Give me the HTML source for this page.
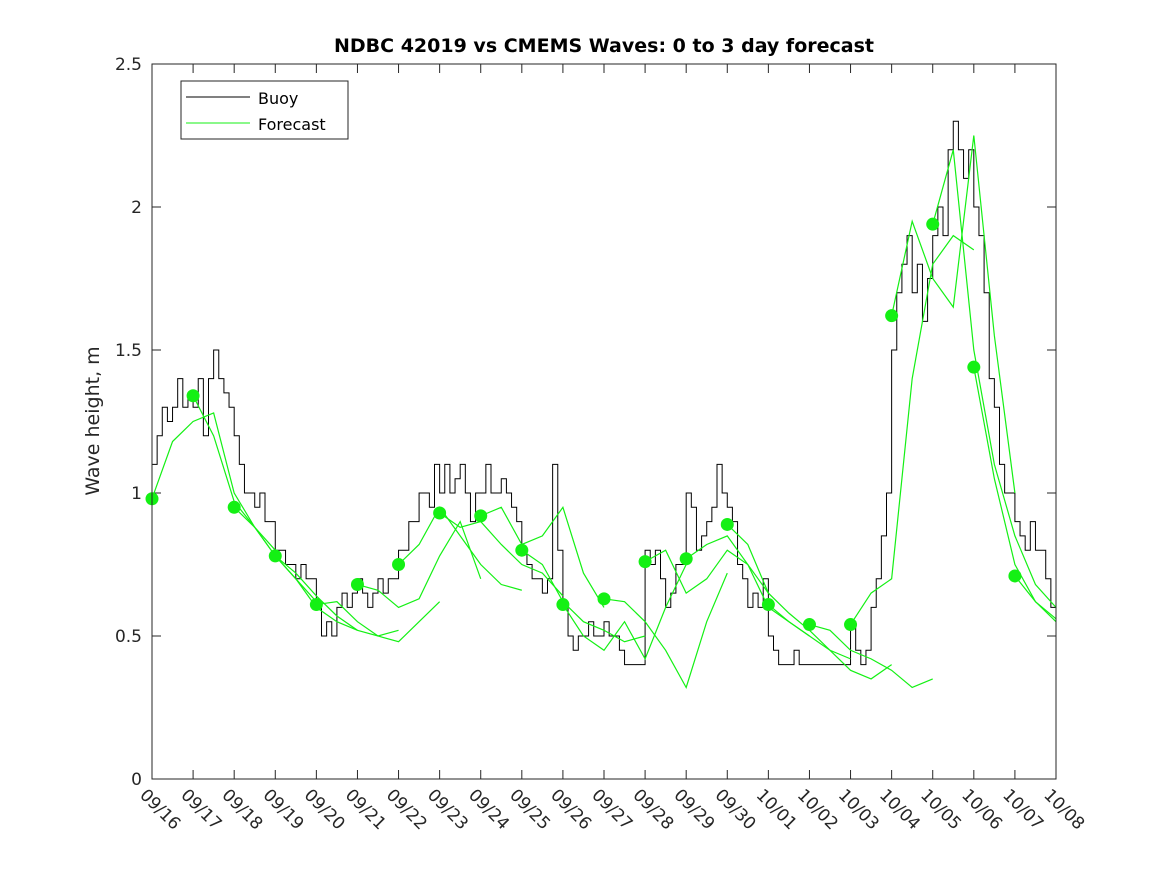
<!DOCTYPE html>
<html><head><meta charset="utf-8"><style>
body{margin:0;background:#fff;}
svg text{font-family:"DejaVu Sans","Liberation Sans",sans-serif;}
</style></head><body>
<svg id="chart" width="1167" height="875" xmlns="http://www.w3.org/2000/svg">
<rect width="1167" height="875" fill="#fff"/>
<text x="604" y="52" text-anchor="middle" font-size="19" font-weight="bold" fill="#000">NDBC 42019 vs CMEMS Waves: 0 to 3 day forecast</text>
<text transform="translate(99,421) rotate(-90)" text-anchor="middle" font-size="19" fill="#262626">Wave height, m</text>
<g id="grid"></g>
<g id="series"></g>
<rect x="152" y="64" width="904" height="715" fill="none" stroke="#262626" stroke-width="1"/>
<g>
<rect x="181" y="81" width="167" height="58" fill="#fff" stroke="#262626"/>
<line x1="186" y1="97" x2="250" y2="97" stroke="#000"/>
<text x="258" y="104" font-size="16" fill="#000">Buoy</text>
<line x1="186" y1="123" x2="250" y2="123" stroke="#14f014"/>
<text x="258" y="130" font-size="16" fill="#000">Forecast</text>
</g>
</svg>
<script>
const dayLabels=["09/16","09/17","09/18","09/19","09/20","09/21","09/22","09/23","09/24","09/25","09/26","09/27","09/28","09/29","09/30","10/01","10/02","10/03","10/04","10/05","10/06","10/07","10/08"];
const yTicks=[0,0.5,1,1.5,2,2.5];
const yTickLabels=["0","0.5","1","1.5","2","2.5"];
// buoy, 3-hourly from 09/16 00:00
const buoy=[
1.1,1.2,1.3,1.25,1.3,1.4,1.3,1.35,
1.3,1.4,1.2,1.4,1.5,1.4,1.35,1.3,
1.2,1.1,1.0,1.0,0.95,1.0,0.9,0.9,
0.8,0.8,0.75,0.75,0.7,0.75,0.7,0.7,
0.6,0.5,0.55,0.5,0.6,0.65,0.6,0.65,
0.7,0.65,0.6,0.65,0.7,0.65,0.7,0.7,
0.8,0.8,0.9,0.9,1.0,1.0,0.95,1.1,
1.0,1.1,1.0,1.05,1.1,1.0,0.9,1.0,
1.0,1.1,1.0,1.0,1.05,1.0,0.95,0.9,
0.8,0.75,0.7,0.7,0.65,0.7,1.1,0.8,
0.6,0.5,0.45,0.5,0.5,0.55,0.5,0.5,
0.55,0.5,0.5,0.45,0.4,0.4,0.4,0.4,
0.8,0.75,0.8,0.7,0.6,0.65,0.75,0.75,
1.0,0.95,0.8,0.85,0.9,0.95,1.1,1.0,
0.95,0.9,0.75,0.7,0.6,0.65,0.6,0.7,
0.5,0.45,0.4,0.4,0.4,0.45,0.4,0.4,
0.4,0.4,0.4,0.4,0.4,0.4,0.4,0.4,
0.55,0.45,0.4,0.45,0.6,0.7,0.85,1.0,
1.5,1.7,1.8,1.9,1.7,1.8,1.6,1.75,
1.9,2.0,1.9,2.2,2.3,2.2,2.1,2.2,
2.0,1.9,1.7,1.4,1.3,1.1,1.0,1.0,
0.9,0.85,0.8,0.9,0.8,0.8,0.7,0.6,
0.5];
// forecasts, 12-hourly, each starting at day index
const forecastStarts=[0,1,2,3,4,5,6,7,8,9,10,11,12,13,14,15,16,17,18,19,20,21];
const forecasts=[
[0.98,1.18,1.25,1.28,1.00,0.88,0.80],
[1.34,1.20,0.97,0.88,0.78,0.70,0.62],
[0.95,0.88,0.78,0.70,0.60,0.55,0.52],
[0.78,0.72,0.64,0.57,0.52,0.50,0.52],
[0.61,0.62,0.55,0.50,0.48,0.55,0.62],
[0.68,0.66,0.60,0.63,0.78,0.90,0.70],
[0.75,0.82,0.95,0.85,0.75,0.68,0.66],
[0.93,0.88,0.90,0.82,0.75,0.72,0.64],
[0.92,0.95,0.82,0.85,0.95,0.72,0.60],
[0.80,0.75,0.62,0.55,0.52,0.48,0.50],
[0.61,0.50,0.45,0.55,0.42,0.60,0.75],
[0.63,0.62,0.55,0.45,0.32,0.55,0.72],
[0.76,0.80,0.65,0.70,0.80,0.75,0.65],
[0.77,0.82,0.85,0.75,0.60,0.55,0.50],
[0.89,0.82,0.65,0.58,0.52,0.45,0.42],
[0.61,0.55,0.50,0.45,0.38,0.35,0.40],
[0.54,0.52,0.45,0.42,0.38,0.32,0.35],
[0.54,0.65,0.70,1.40,1.80,1.90,1.85],
[1.62,1.95,1.75,1.65,2.25,1.55,1.00],
[1.94,2.20,1.50,1.10,0.85,0.68,0.60],
[1.44,1.05,0.75,0.62,0.55],
[0.71,0.62,0.56]
];
const dotValues=[0.98,1.34,0.95,0.78,0.61,0.68,0.75,0.93,0.92,0.80,0.61,0.63,0.76,0.77,0.89,0.61,0.54,0.54,1.62,1.94,1.44,0.71];

const NS="http://www.w3.org/2000/svg";
const X0=152,X1=1056,Y0=779,Y1=64;
const xs=d=>X0+(X1-X0)*d/22;
const ys=v=>Y0-(Y0-Y1)*v/2.5;
function mk(tag,attrs,parent){const e=document.createElementNS(NS,tag);for(const k in attrs)e.setAttribute(k,attrs[k]);parent.appendChild(e);return e;}
const grid=document.getElementById('grid'),ser=document.getElementById('series');
yTicks.forEach((v,i)=>{
  const y=ys(v);
  const t1=mk('line',{x1:X0,x2:X0+9,y1:y,y2:y,stroke:'#262626'},grid);
  
  
  mk('line',{x1:X1-9,x2:X1,y1:y,y2:y,stroke:'#262626'},grid);
  const t=mk('text',{x:X0-10,y:y+6,'text-anchor':'end','font-size':'17',fill:'#262626'},grid);
  
  
  t.textContent=yTickLabels[i];
});
dayLabels.forEach((lab,i)=>{
  const x=xs(i);
  const t1=mk('line',{x1:x,x2:x,y1:Y0,y2:Y0-9,stroke:'#262626'},grid);
  
  
  mk('line',{x1:x,x2:x,y1:Y1,y2:Y1+9,stroke:'#262626'},grid);
  const t=mk('text',{transform:`translate(${x-13},${Y0+17}) rotate(45)`,'font-size':'17',fill:'#262626'},grid);
  
  
  t.textContent=lab;
});
// buoy step line
const step=1/8;
let d='';
buoy.forEach((v,i)=>{const x=xs(i*step),y=ys(v);if(i===0)d+=`M${x},${y}`;else d+=`V${y}`; if(i<buoy.length-1) d+=`H${xs((i+1)*step)}`;});
const bp=mk('path',{d:d,fill:'none',stroke:'#000','stroke-width':'1'},ser);


forecasts.forEach((arr,k)=>{
  const s=forecastStarts[k];
  const pts=arr.map((v,j)=>`${xs(s+j/2)},${ys(v)}`).join(' ');
  const p=mk('polyline',{points:pts,fill:'none',stroke:'#14f014','stroke-width':'1.2'},ser);
  
  
});
dotValues.forEach((v,k)=>{
  const c=mk('circle',{cx:xs(forecastStarts[k]),cy:ys(v),r:6.5,fill:'#14f014'},ser);
  
  
});
</script>
</body></html>
